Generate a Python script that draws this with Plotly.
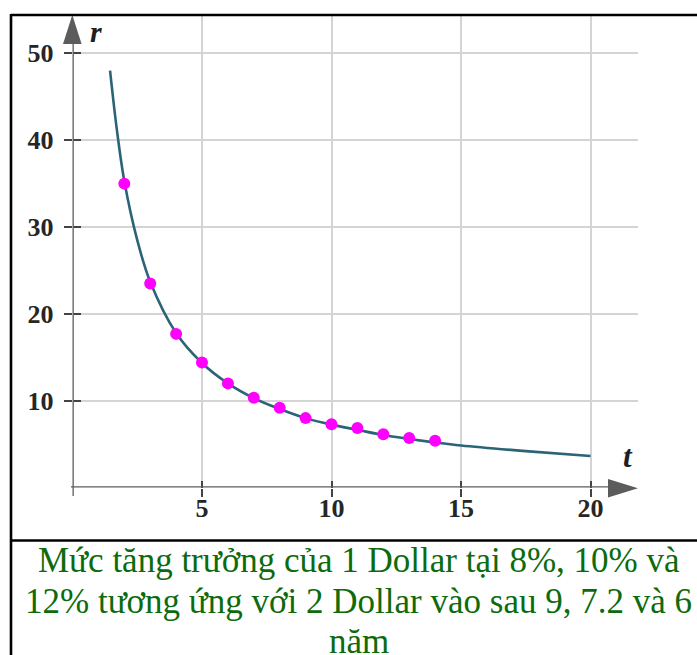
import plotly.graph_objects as go

# ---- data ----
curve_t = [1.45, 1.7, 2, 2.5, 3, 4, 5, 6, 7, 8, 9, 10, 11, 12, 13, 14, 15, 17.5, 20]
curve_r = [48, 41.5, 35.3, 28.5, 23.7, 17.8, 14.35, 12.0, 10.3, 9.05, 8.0, 7.25, 6.65,
           6.05, 5.6, 5.2, 4.85, 4.2, 3.64]
point_t = [2, 3, 4, 5, 6, 7, 8, 9, 10, 11, 12, 13, 14]
point_r = [35.0, 23.5, 17.7, 14.4, 12.0, 10.35, 9.2, 8.0, 7.3, 6.85, 6.15, 5.7, 5.4]
x_ticks = [5, 10, 15, 20]
y_ticks = [10, 20, 30, 40, 50]
caption_lines = ["Mức tăng trưởng của 1 Dollar tại 8%, 10% và",
                 "12% tương ứng với 2 Dollar vào sau 9, 7.2 và 6",
                 "năm"]

W, H = 697, 655
def fx(px):
    return px / W
def fy(py):
    return 1 - py / H

X0, XPX = 72.5, 25.9      # pixel of t=0, px per unit
Y0, YPX = 487.6, 8.685    # pixel of r=0, px per unit
XR = (638 - X0) / XPX
YR = (Y0 - 15) / YPX

tick_font = dict(family="Liberation Serif", size=26, color="#262626", weight="bold")
axis_col = "#5c5c5c"
tick_col = "#444444"

fig = go.Figure()
fig.add_trace(go.Scatter(x=curve_t, y=curve_r, mode="lines",
                         line=dict(color="#2b6477", width=2.6, shape="spline"),
                         hoverinfo="skip", showlegend=False))
fig.add_trace(go.Scatter(x=point_t, y=point_r, mode="markers",
                         marker=dict(color="#ff00ff", size=12),
                         showlegend=False))
fig.add_trace(go.Scatter(x=[], y=[], xaxis="x2", yaxis="y2", showlegend=False))

fig.update_layout(
    width=W, height=H, margin=dict(l=0, r=0, t=0, b=0),
    paper_bgcolor="white", plot_bgcolor="white",
    xaxis=dict(domain=[fx(X0), fx(638)], range=[0, XR], tickvals=x_ticks,
               ticks="inside", ticklen=7, tickwidth=2, tickcolor=tick_col,
               showgrid=True, gridcolor="#d4d4d4", gridwidth=1.6,
               zeroline=False, showline=False, tickfont=tick_font,
               ticklabelstandoff=2, anchor="y"),
    yaxis=dict(domain=[fy(Y0), fy(15)], range=[0, YR], tickvals=y_ticks,
               ticks="inside", ticklen=8, tickwidth=2, tickcolor=tick_col,
               showgrid=True, gridcolor="#d4d4d4", gridwidth=1.6,
               zeroline=False, showline=False, tickfont=tick_font,
               ticklabelstandoff=18, anchor="x"),
    xaxis2=dict(overlaying="x", matches="x", anchor="y2", tickvals=x_ticks,
                ticks="outside", ticklen=8, tickwidth=2, tickcolor=tick_col,
                showticklabels=False, showgrid=False, zeroline=False),
    yaxis2=dict(overlaying="y", matches="y", anchor="x2", tickvals=y_ticks,
                ticks="outside", ticklen=8, tickwidth=2, tickcolor=tick_col,
                showticklabels=False, showgrid=False, zeroline=False),
)

shapes = []
# axis lines
shapes.append(dict(type="line", xref="x", yref="paper", x0=0, x1=0,
                   y0=fy(496), y1=fy(40), line=dict(color=axis_col, width=2.6)))
shapes.append(dict(type="line", xref="paper", yref="y", x0=fx(71), x1=fx(612),
                   y0=0, y1=0, line=dict(color=axis_col, width=2.6)))
# arrowheads
def tri(p):
    return "M {} {} L {} {} L {} {} Z".format(fx(p[0][0]), fy(p[0][1]), fx(p[1][0]), fy(p[1][1]),
                                             fx(p[2][0]), fy(p[2][1]))
shapes.append(dict(type="path", xref="paper", yref="paper",
                   path=tri([(72.3, 15), (63, 44), (81.6, 44)]),
                   fillcolor=axis_col, line=dict(width=0)))
shapes.append(dict(type="path", xref="paper", yref="paper",
                   path=tri([(638, 488.2), (608, 479), (608, 497.4)]),
                   fillcolor=axis_col, line=dict(width=0)))
# frame
frame = dict(color="black", width=2.6)
shapes.append(dict(type="line", xref="paper", yref="paper", x0=fx(11), x1=fx(697),
                   y0=fy(15), y1=fy(15), line=frame))
shapes.append(dict(type="line", xref="paper", yref="paper", x0=fx(11), x1=fx(11),
                   y0=fy(14), y1=fy(655), line=frame))
shapes.append(dict(type="line", xref="paper", yref="paper", x0=fx(11), x1=fx(697),
                   y0=fy(540.5), y1=fy(540.5), line=frame))
fig.update_layout(shapes=shapes)

ann = []
var_font = dict(family="Liberation Serif", size=30, color="#1e1e1e", weight="bold")
ann.append(dict(text="<i>r</i>", xref="paper", yref="paper", x=fx(95.5), y=fy(31),
                xanchor="center", yanchor="middle", showarrow=False, font=var_font))
ann.append(dict(text="<i>t</i>", xref="paper", yref="paper", x=fx(628), y=fy(456),
                xanchor="center", yanchor="middle", showarrow=False,
                font=dict(var_font, size=31)))
cap_font = dict(family="Liberation Serif", size=35, color="#0c6b0c")
for line, cy in zip(caption_lines, [560, 601.5, 641]):
    ann.append(dict(text=line, xref="paper", yref="paper", x=fx(359), y=fy(cy),
                    xanchor="center", yanchor="middle", showarrow=False, font=cap_font))
fig.update_layout(annotations=ann)

fig.write_html("out.html", config={"displayModeBar": False},
               post_script="document.body.style.margin='0';")
